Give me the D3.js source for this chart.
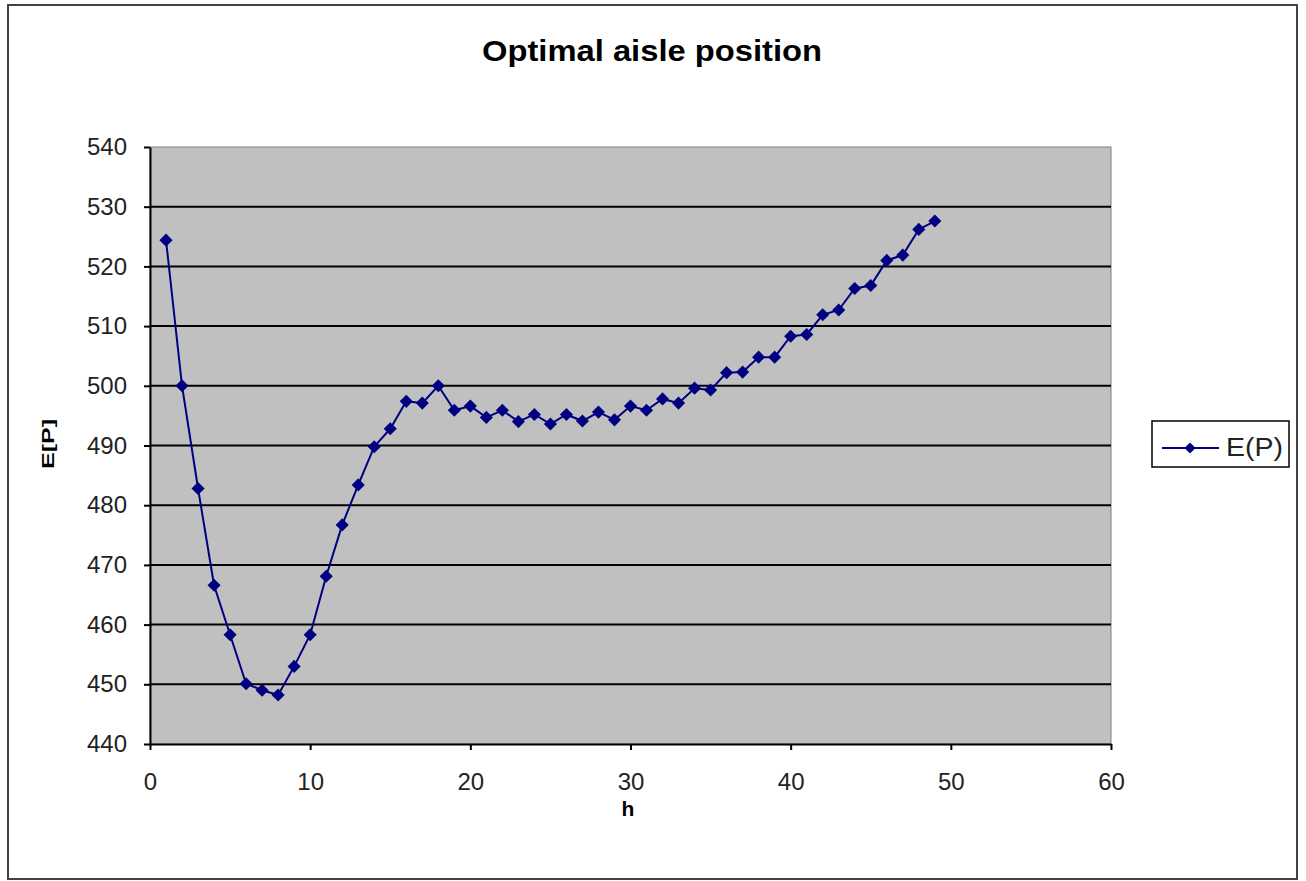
<!DOCTYPE html>
<html><head><meta charset="utf-8">
<script src="https://cdn.jsdelivr.net/npm/d3@7"></script>
<style>body{margin:0;background:#fff;}svg{display:block;font-family:Arial,"Liberation Sans",sans-serif;}</style>
</head><body><svg id="c" width="1306" height="881"></svg>
<script>
const hValues = [1,2,3,4,5,6,7,8,9,10,11,12,13,14,15,16,17,18,19,20,21,22,23,24,25,26,27,28,29,30,31,32,33,34,35,36,37,38,39,40,41,42,43,44,45,46,47,48,49];
const epValues = [524.4,500.0,482.8,466.6,458.3,450.1,449.0,448.2,453.0,458.3,468.1,476.7,483.4,489.8,492.8,497.4,497.1,500.0,495.9,496.6,494.7,495.9,494.0,495.2,493.6,495.2,494.1,495.6,494.3,496.6,495.9,497.8,497.1,499.6,499.3,502.2,502.3,504.8,504.8,508.3,508.6,511.9,512.7,516.3,516.8,521.0,521.9,526.2,527.6];
const xTicks = [0,10,20,30,40,50,60];
const yTicks = [440,450,460,470,480,490,500,510,520,530,540];
const seriesName = "E(P)";
const titleText = "Optimal aisle position";
const xLabel = "h";
const yLabel = "E[P]";

const svg = d3.select("#c");
const L = 150, R = 1111, T = 147, B = 744;
const x = d3.scaleLinear().domain([0,60]).range([L,R]);
const y = d3.scaleLinear().domain([440,540]).range([B,T]);
const navy = "#000080";
const FONT = "Arial, 'Liberation Sans', sans-serif";

// outer frame
svg.append("rect").attr("x",8).attr("y",5).attr("width",1289).attr("height",874)
  .attr("fill","#fff").attr("stroke","#444").attr("stroke-width",2);

// plot area
svg.append("rect").attr("x",L).attr("y",T).attr("width",R-L).attr("height",B-T)
  .attr("fill","#c0c0c0").attr("stroke","#808080").attr("stroke-width",1);

// gridlines
svg.append("g").selectAll("line").data(yTicks.filter(d=>d>440 && d<540)).join("line")
  .attr("x1",L).attr("x2",R).attr("y1",d=>y(d)).attr("y2",d=>y(d))
  .attr("stroke","#000").attr("stroke-width",2);

// axes
const xAxis = svg.append("g").attr("transform",`translate(0,${B})`)
  .call(d3.axisBottom(x).tickValues(xTicks).tickSize(6).tickPadding(23).tickSizeOuter(0));
const yAxis = svg.append("g").attr("transform",`translate(${L},0)`)
  .call(d3.axisLeft(y).tickValues(yTicks).tickSize(6).tickPadding(17).tickSizeOuter(0));
[xAxis,yAxis].forEach(g=>{
  g.select(".domain").attr("stroke","#000").attr("stroke-width",2);
  g.selectAll(".tick line").attr("stroke","#000").attr("stroke-width",2);
  g.selectAll(".tick text").attr("fill","#222").attr("font-size",24).attr("font-family",FONT);
});

// line
const line = d3.line().x((d,i)=>x(hValues[i])).y(d=>y(d));
svg.append("path").datum(epValues).attr("d",line)
  .attr("fill","none").attr("stroke",navy).attr("stroke-width",2);

const diamond = d3.symbol().type(d3.symbolDiamond2 || d3.symbolDiamond).size(110);
svg.append("g").selectAll("path").data(epValues).join("path")
  .attr("d",diamond)
  .attr("transform",(d,i)=>`translate(${x(hValues[i])},${y(d)})`)
  .attr("fill",navy);

// title and labels
svg.append("text").attr("x",652).attr("y",61).attr("text-anchor","middle")
  .attr("font-size",30).attr("font-weight","bold").attr("font-family",FONT).attr("fill","#000")
  .attr("textLength",340).attr("lengthAdjust","spacingAndGlyphs").text(titleText);
svg.append("text").attr("x",628).attr("y",816).attr("text-anchor","middle")
  .attr("font-size",21).attr("font-weight","bold").attr("font-family",FONT).text(xLabel);
svg.append("text").attr("transform","translate(54,444) rotate(-90)").attr("text-anchor","middle")
  .attr("font-size",17).attr("font-weight","bold").attr("font-family",FONT)
  .attr("textLength",50).attr("lengthAdjust","spacingAndGlyphs").text(yLabel);

// legend
const lg = svg.append("g");
lg.append("rect").attr("x",1152).attr("y",421).attr("width",137).attr("height",46)
  .attr("fill","#fff").attr("stroke","#000").attr("stroke-width",1.5);
lg.append("line").attr("x1",1162).attr("x2",1219).attr("y1",448).attr("y2",448)
  .attr("stroke",navy).attr("stroke-width",2);
lg.append("path").attr("d",d3.symbol().type(d3.symbolDiamond2 || d3.symbolDiamond).size(80))
  .attr("transform","translate(1190,448)").attr("fill",navy);
lg.append("text").attr("x",1226).attr("y",456).attr("font-size",25).attr("font-family",FONT)
  .attr("fill","#222").attr("textLength",57).attr("lengthAdjust","spacingAndGlyphs").text(seriesName);
</script></body></html>
